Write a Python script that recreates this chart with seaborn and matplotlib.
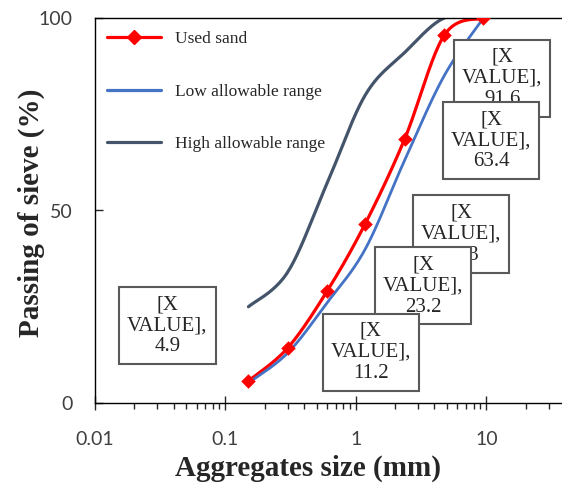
import numpy as np
import pandas as pd
import seaborn as sns
import matplotlib.pyplot as plt
from matplotlib.lines import Line2D
from matplotlib.ticker import NullFormatter

# sieve sizes (mm) and passing (%)
sizes = [0.15, 0.3, 0.6, 1.18, 2.36, 4.75, 9.5]
used_sand = [5.7, 14.3, 29.0, 46.6, 68.5, 95.5, 100.0]
low_range = [5.2, 13.0, 26.0, 40.0, 63.0, 85.0, 100.0]
high_range = [25.0, 34.0, 57.0, 80.0, 91.0, 100.0, 100.0]

# data labels as printed in the picture
label_values = ['4.9', '11.2', '23.2', '43.3', '63.4', '91.6']
label_pos = [(0.155, 0.201), (0.591, 0.132), (0.703, 0.304),
             (0.784, 0.439), (0.848, 0.681), (0.872, 0.844)]

x_ticks = [0.01, 0.1, 1, 10]
x_tick_labels = ['0.01', '0.1', '1', '10']
y_ticks = [0, 50, 100]

series_names = ['Used sand', 'Low allowable range', 'High allowable range']
colors = ['#FF0000', '#4472C4', '#44546A']


def smooth_curve(x, y, steps=40):
    """ Excel like smoothed line (bezier through the points, done in log-x space) """
    pts = np.column_stack([np.log10(x), y])
    pts = np.vstack([pts[0], pts, pts[-1]])
    t = np.linspace(0, 1, steps)[:, None]
    seg = []
    for i in range(1, len(pts) - 2):
        p0, p1, p2, p3 = pts[i - 1], pts[i], pts[i + 1], pts[i + 2]
        c1 = p1 + (p2 - p0) / 6
        c2 = p2 - (p3 - p1) / 6
        seg.append((1 - t) ** 3 * p1 + 3 * (1 - t) ** 2 * t * c1 + 3 * (1 - t) * t ** 2 * c2 + t ** 3 * p2)
    seg = np.vstack(seg)
    return pd.DataFrame({'size': 10 ** seg[:, 0], 'passing': seg[:, 1]})


sns.set_style('ticks')
plt.rcParams['font.family'] = ['Lato', 'DejaVu Sans']

fig = plt.figure(figsize=(5.62, 4.86), dpi=100)
ax = fig.add_axes([95 / 562, 1 - 403 / 486, 467 / 562, 385 / 486])

widths = [2.3, 2.0, 2.3]
for vals, col, lw in zip([used_sand, low_range, high_range], colors, widths):
    sns.lineplot(data=smooth_curve(sizes, vals), x='size', y='passing', sort=False,
                 estimator=None, color=col, lw=lw, ax=ax)
    if vals is used_sand:
        sns.scatterplot(x=sizes, y=used_sand, marker='D', s=55, color=colors[0],
                        edgecolor=colors[0], linewidth=0, ax=ax, zorder=3)

ax.set_xscale('log')
ax.set_xlim(0.01, 38)
ax.set_ylim(0, 100)
ax.set_xticks(x_ticks, x_tick_labels)
ax.xaxis.set_minor_formatter(NullFormatter())
ax.set_yticks(y_ticks)

ax.tick_params(axis='x', which='major', direction='inout', length=10, width=1, pad=15,
               labelsize=14, labelcolor='#404040')
ax.tick_params(axis='x', which='minor', direction='out', length=4.3, width=1)
ax.tick_params(axis='y', which='major', direction='in', length=5.5, width=1, pad=16,
               labelsize=14, labelcolor='#404040')

for s in ['left', 'bottom', 'top']:
    ax.spines[s].set_color('black')
    ax.spines[s].set_linewidth(1)
ax.spines['right'].set_visible(False)

ax.set_xlabel('Aggregates size (mm)', fontsize=21, fontweight='bold', family='Liberation Serif')
ax.set_ylabel('Passing of sieve (%)', fontsize=21, fontweight='bold', family='Liberation Serif')
ax.xaxis.set_label_coords(0.456, -0.135)
ax.yaxis.set_label_coords(-0.108, 0.495)

# data label boxes, last ones first so the earlier boxes sit on top
for i in reversed(range(len(label_values))):
    ax.text(label_pos[i][0], label_pos[i][1], f'[X\nVALUE],\n{label_values[i]}',
            transform=ax.transAxes, ha='center', va='center', fontsize=15,
            family='Liberation Serif', color='#262626', linespacing=1.15, zorder=5 + (6 - i),
            bbox=dict(boxstyle='square,pad=0.38', fc='white', ec='#595959', lw=1.5))

handles = [Line2D([], [], color=colors[0], lw=2.3, marker='D', ms=7),
           Line2D([], [], color=colors[1], lw=2.3),
           Line2D([], [], color=colors[2], lw=2.3)]
ax.legend(handles, series_names, loc='upper left', bbox_to_anchor=(107 / 562, 1 - 31 / 486),
          bbox_transform=fig.transFigure, frameon=False, borderpad=0, borderaxespad=0,
          prop={'family': 'Liberation Serif', 'size': 12.5}, handlelength=3.1,
          handletextpad=0.8, labelspacing=2.1)

fig.savefig('out.png', dpi=100)
